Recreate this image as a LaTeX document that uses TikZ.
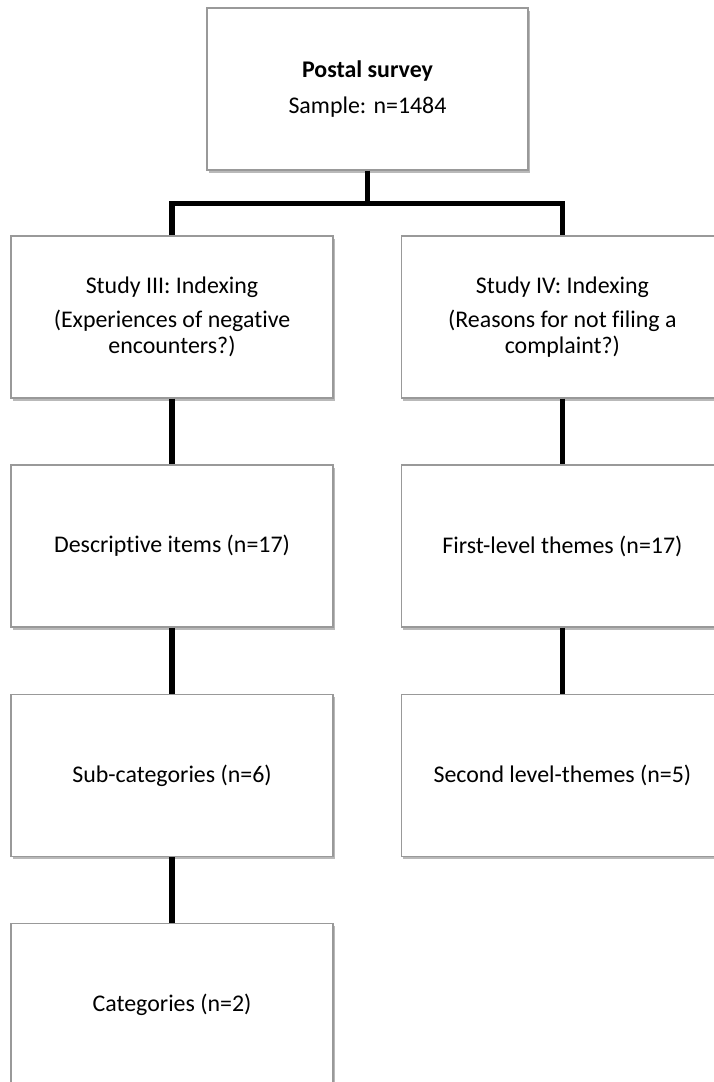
\documentclass[tikz,border=0pt]{standalone}
\usepackage{fontspec}
\setmainfont{Carlito}[RawFeature=-liga]
\usetikzlibrary{positioning,shadows}

\begin{document}
\begin{tikzpicture}[
    box/.style={rectangle, draw=black!40, line width=0.8pt, fill=white,
        minimum width=8.05cm, minimum height=4.05cm, align=center,
        font=\fontsize{17}{18.4}\selectfont,
        drop shadow={shadow xshift=1.4pt, shadow yshift=-1.8pt, fill=black!50, opacity=0.55}},
    link/.style={line width=4pt}
]
    \useasboundingbox (0,0) rectangle (17.825,-27.05);

    % Survey
    \node[box, minimum width=8.025cm] (survey) at (9.1875,-2.225)
        {\textbf{Postal survey}\\[7.6pt]Sample: n=1484};

    % Study III (left column)
    \node[box] (studyIII) at (4.3,-7.925)
        {Study III: Indexing\\[5.8pt](Experiences of negative\\encounters?)};
    \node[box] (descr) at (4.3,-13.65) {Descriptive items (n=17)};
    \node[box] (subcat) at (4.3,-19.39) {Sub-categories (n=6)};
    \node[box] (cat) at (4.3,-25.11) {Categories (n=2)};

    % Study IV (right column)
    \node[box] (studyIV) at (14.06,-7.925)
        {Study IV: Indexing\\[5.8pt](Reasons for not filing a\\complaint?)};
    \node[box] (first) at (14.06,-13.65) {First-level themes (n=17)};
    \node[box] (second) at (14.06,-19.39) {Second level-themes (n=5)};

    % Connectors
    \draw[link] (survey.south) -- ++(0,-0.825) coordinate (fork);
    \draw[link] (studyIII.north) |- (fork) -| (studyIV.north);
    \draw[link] (studyIII.south) -- (descr.north);
    \draw[link] (descr.south) -- (subcat.north);
    \draw[link] (subcat.south) -- (cat.north);
    \draw[link] (studyIV.south) -- (first.north);
    \draw[link] (first.south) -- (second.north);
\end{tikzpicture}
\end{document}
